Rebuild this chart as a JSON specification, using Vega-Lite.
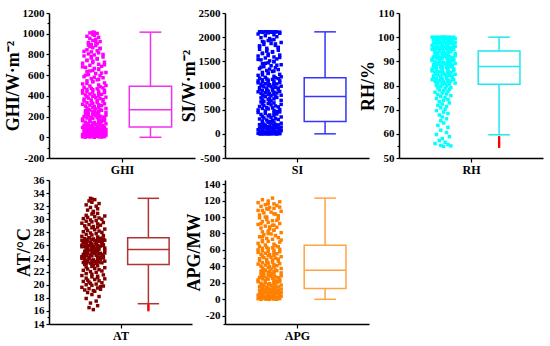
{
"$schema":"https://vega.github.io/schema/vega-lite/v6.json",
"background":"white",
"padding":{"left":4,"top":7,"right":4,"bottom":4},
"bounds":"flush",
"columns":3,
"spacing":{"row":22,"column":30},
"config":{"view":{"stroke":null},"font":"Liberation Serif",
"axis":{"grid":false,"domainColor":"black","domainWidth":1.5,"tickColor":"black","tickWidth":1.2,"tickSize":3,"labelFont":"Liberation Serif","labelFontWeight":"bold","labelFontSize":11,"labelColor":"black","labelOverlap":false,"labelFlush":false,"labelPadding":2,"titleFont":"Liberation Serif","titleFontWeight":"bold","titleFontSize":18,"titleColor":"black","titlePadding":0}},
"datasets":{
"ghi":[{"v":0,"j":31},{"v":1,"j":25},{"v":2,"j":36},{"v":3,"j":28},{"v":4,"j":34},{"v":5,"j":23},{"v":6,"j":38},{"v":8,"j":30},{"v":9,"j":26},{"v":10,"j":33},{"v":12,"j":29},{"v":13,"j":37},{"v":15,"j":24},{"v":16,"j":35},{"v":18,"j":27},{"v":19,"j":32},{"v":21,"j":39},{"v":22,"j":26},{"v":24,"j":30},{"v":25,"j":34},
{"v":27,"j":23},{"v":29,"j":38},{"v":30,"j":30},{"v":32,"j":26},{"v":34,"j":33},{"v":36,"j":29},{"v":38,"j":37},{"v":40,"j":24},{"v":42,"j":35},{"v":44,"j":27},{"v":46,"j":32},{"v":48,"j":39},{"v":50,"j":26},{"v":52,"j":30},{"v":54,"j":34},{"v":56,"j":31},{"v":58,"j":25},{"v":60,"j":36},{"v":62,"j":28},{"v":64,"j":34},
{"v":66,"j":37},{"v":68,"j":24},{"v":70,"j":35},{"v":72,"j":27},{"v":74,"j":32},{"v":76,"j":39},{"v":78,"j":26},{"v":80,"j":30},{"v":82,"j":34},{"v":84,"j":31},{"v":86,"j":25},{"v":88,"j":36},{"v":90,"j":28},{"v":92,"j":34},{"v":94,"j":23},{"v":95,"j":38},{"v":96,"j":30},{"v":97,"j":26},{"v":98,"j":33},{"v":99,"j":29},
{"v":100,"j":30},{"v":103,"j":26},{"v":106,"j":33},{"v":110,"j":29},{"v":113,"j":37},{"v":116,"j":24},{"v":120,"j":35},{"v":123,"j":27},{"v":126,"j":32},{"v":130,"j":39},{"v":133,"j":26},{"v":136,"j":30},{"v":140,"j":34},{"v":143,"j":31},{"v":146,"j":25},{"v":150,"j":36},{"v":153,"j":28},{"v":156,"j":34},{"v":160,"j":23},{"v":163,"j":38},
{"v":166,"j":36},{"v":170,"j":28},{"v":173,"j":34},{"v":176,"j":23},{"v":180,"j":38},{"v":183,"j":30},{"v":186,"j":26},{"v":190,"j":33},{"v":193,"j":29},{"v":196,"j":37},{"v":200,"j":24},{"v":203,"j":35},{"v":206,"j":27},{"v":210,"j":32},{"v":213,"j":39},{"v":216,"j":26},{"v":220,"j":30},{"v":223,"j":34},{"v":226,"j":31},{"v":230,"j":25},
{"v":233,"j":27},{"v":236,"j":32},{"v":240,"j":39},{"v":243,"j":26},{"v":246,"j":30},{"v":250,"j":34},{"v":253,"j":31},{"v":256,"j":25},{"v":260,"j":36},{"v":263,"j":28},
{"v":265,"j":35},{"v":270,"j":27},{"v":274,"j":32},{"v":279,"j":39},{"v":283,"j":26},{"v":288,"j":30},{"v":292,"j":34},{"v":297,"j":31},{"v":301,"j":25},{"v":306,"j":36},{"v":310,"j":28},{"v":315,"j":34},{"v":319,"j":23},{"v":324,"j":38},{"v":328,"j":30},{"v":333,"j":26},{"v":337,"j":33},{"v":342,"j":29},{"v":346,"j":37},{"v":351,"j":24},
{"v":355,"j":33},{"v":360,"j":29},{"v":364,"j":37},{"v":369,"j":24},{"v":373,"j":35},{"v":378,"j":27},{"v":382,"j":32},{"v":387,"j":39},{"v":391,"j":26},{"v":396,"j":30},{"v":400,"j":34},{"v":405,"j":31},{"v":409,"j":25},{"v":414,"j":36},{"v":418,"j":28},{"v":423,"j":34},{"v":427,"j":23},{"v":432,"j":38},{"v":436,"j":30},{"v":441,"j":26},
{"v":445,"j":34},{"v":450,"j":23},{"v":454,"j":38},{"v":459,"j":30},{"v":463,"j":26},{"v":468,"j":33},{"v":472,"j":29},{"v":477,"j":37},{"v":481,"j":24},{"v":488,"j":35},
{"v":495,"j":28},{"v":505,"j":34},{"v":515,"j":23},{"v":525,"j":38},{"v":535,"j":30},{"v":545,"j":26},{"v":555,"j":33},{"v":565,"j":29},{"v":575,"j":37},{"v":585,"j":24},{"v":595,"j":35},{"v":605,"j":27},{"v":615,"j":32},{"v":625,"j":39},{"v":635,"j":26},{"v":645,"j":30},{"v":655,"j":34},{"v":665,"j":31},{"v":675,"j":25},{"v":685,"j":36},
{"v":695,"j":28},{"v":705,"j":34},{"v":715,"j":23},{"v":725,"j":38},{"v":735,"j":30},{"v":745,"j":26},{"v":755,"j":33},{"v":765,"j":29},{"v":775,"j":37},{"v":785,"j":24},
{"v":795,"j":31},{"v":805,"j":27},{"v":815,"j":34},{"v":825,"j":29},{"v":835,"j":33},{"v":845,"j":26},{"v":855,"j":35},{"v":865,"j":30},{"v":875,"j":28},{"v":885,"j":32},{"v":895,"j":29},{"v":905,"j":33},{"v":915,"j":27},{"v":925,"j":35},{"v":935,"j":30},{"v":945,"j":32},{"v":955,"j":28},{"v":965,"j":34},{"v":975,"j":26},{"v":985,"j":31},{"v":995,"j":30},{"v":1003,"j":33},{"v":1008,"j":28},{"v":1012,"j":31},{"v":1015,"j":30},
{"v":500,"j":39},{"v":520,"j":26},{"v":540,"j":30},{"v":560,"j":34},{"v":580,"j":31},{"v":600,"j":25},{"v":620,"j":36},{"v":640,"j":28},{"v":660,"j":34},{"v":680,"j":23},{"v":700,"j":38},{"v":720,"j":30},{"v":740,"j":26},{"v":760,"j":33},{"v":780,"j":29},{"v":800,"j":37},{"v":830,"j":24},{"v":860,"j":35},{"v":890,"j":27},{"v":920,"j":32}],
"si":[{"v":0,"j":31},{"v":0,"j":25},{"v":2,"j":36},{"v":5,"j":28},{"v":8,"j":34},{"v":12,"j":23},{"v":15,"j":38},{"v":20,"j":30},{"v":25,"j":26},{"v":30,"j":33},{"v":35,"j":29},{"v":40,"j":37},{"v":45,"j":24},{"v":50,"j":35},{"v":55,"j":27},{"v":60,"j":32},{"v":65,"j":39},{"v":70,"j":26},{"v":75,"j":30},{"v":80,"j":34},
{"v":85,"j":23},{"v":90,"j":38},{"v":95,"j":30},{"v":100,"j":26},{"v":105,"j":33},{"v":110,"j":29},{"v":115,"j":37},{"v":120,"j":24},{"v":125,"j":35},{"v":130,"j":27},{"v":135,"j":32},{"v":140,"j":39},{"v":145,"j":26},{"v":150,"j":30},{"v":155,"j":34},{"v":160,"j":31},{"v":165,"j":25},{"v":170,"j":36},{"v":175,"j":28},{"v":180,"j":34},
{"v":185,"j":37},{"v":190,"j":24},{"v":195,"j":35},{"v":200,"j":27},{"v":210,"j":32},{"v":220,"j":39},{"v":230,"j":26},{"v":240,"j":30},{"v":245,"j":34},{"v":250,"j":31},
{"v":0,"j":24},{"v":0,"j":27},{"v":1,"j":30},{"v":2,"j":33},{"v":0,"j":36},{"v":3,"j":38},{"v":1,"j":26},{"v":0,"j":29},{"v":4,"j":32},{"v":2,"j":35},
{"v":255,"j":30},{"v":265,"j":26},{"v":276,"j":33},{"v":286,"j":29},{"v":297,"j":37},{"v":307,"j":24},{"v":318,"j":35},{"v":328,"j":27},{"v":338,"j":32},{"v":349,"j":39},{"v":359,"j":26},{"v":370,"j":30},{"v":380,"j":34},{"v":390,"j":31},{"v":401,"j":25},{"v":411,"j":36},{"v":422,"j":28},{"v":432,"j":34},{"v":442,"j":23},{"v":453,"j":38},
{"v":463,"j":36},{"v":474,"j":28},{"v":484,"j":34},{"v":494,"j":23},{"v":505,"j":38},{"v":515,"j":30},{"v":526,"j":26},{"v":536,"j":33},{"v":546,"j":29},{"v":557,"j":37},{"v":567,"j":24},{"v":578,"j":35},{"v":588,"j":27},{"v":598,"j":32},{"v":609,"j":39},{"v":619,"j":26},{"v":630,"j":30},{"v":640,"j":34},{"v":650,"j":31},{"v":661,"j":25},
{"v":671,"j":27},{"v":682,"j":32},{"v":692,"j":39},{"v":702,"j":26},{"v":713,"j":30},{"v":723,"j":34},{"v":734,"j":31},{"v":744,"j":25},{"v":754,"j":36},{"v":768,"j":28},
{"v":775,"j":35},{"v":783,"j":27},{"v":791,"j":32},{"v":799,"j":39},{"v":806,"j":26},{"v":814,"j":30},{"v":822,"j":34},{"v":830,"j":31},{"v":838,"j":25},{"v":845,"j":36},{"v":853,"j":28},{"v":861,"j":34},{"v":869,"j":23},{"v":877,"j":38},{"v":884,"j":30},{"v":892,"j":26},{"v":900,"j":33},{"v":908,"j":29},{"v":916,"j":37},{"v":923,"j":24},
{"v":931,"j":33},{"v":939,"j":29},{"v":947,"j":37},{"v":955,"j":24},{"v":962,"j":35},{"v":970,"j":27},{"v":978,"j":32},{"v":986,"j":39},{"v":994,"j":26},{"v":1001,"j":30},{"v":1009,"j":34},{"v":1017,"j":31},{"v":1025,"j":25},{"v":1033,"j":36},{"v":1040,"j":28},{"v":1048,"j":34},{"v":1056,"j":23},{"v":1064,"j":38},{"v":1072,"j":30},{"v":1079,"j":26},
{"v":1087,"j":34},{"v":1095,"j":23},{"v":1103,"j":38},{"v":1111,"j":30},{"v":1118,"j":26},{"v":1126,"j":33},{"v":1134,"j":29},{"v":1142,"j":37},{"v":1150,"j":24},{"v":1160,"j":35},
{"v":1170,"j":28},{"v":1190,"j":34},{"v":1210,"j":23},{"v":1230,"j":38},{"v":1250,"j":30},{"v":1270,"j":26},{"v":1290,"j":33},{"v":1310,"j":29},{"v":1330,"j":37},{"v":1350,"j":24},{"v":1370,"j":35},{"v":1390,"j":27},{"v":1410,"j":32},{"v":1430,"j":39},{"v":1450,"j":26},{"v":1470,"j":30},{"v":1490,"j":34},{"v":1510,"j":31},{"v":1530,"j":25},{"v":1550,"j":36},
{"v":1570,"j":28},{"v":1590,"j":34},{"v":1610,"j":23},{"v":1630,"j":38},{"v":1650,"j":30},{"v":1670,"j":26},{"v":1690,"j":33},{"v":1710,"j":29},{"v":1730,"j":37},{"v":1750,"j":24},
{"v":1770,"j":29},{"v":1790,"j":37},{"v":1810,"j":24},{"v":1830,"j":35},{"v":1850,"j":27},{"v":1870,"j":32},{"v":1890,"j":39},{"v":1910,"j":26},{"v":1930,"j":30},{"v":1950,"j":34},{"v":1970,"j":31},{"v":1990,"j":25},{"v":2010,"j":36},{"v":2030,"j":28},{"v":2050,"j":34},{"v":2065,"j":23},{"v":2080,"j":38},{"v":2090,"j":30},{"v":2100,"j":26},{"v":2105,"j":33},
{"v":2110,"j":24},{"v":2108,"j":27},{"v":2112,"j":30},{"v":2106,"j":33},{"v":2110,"j":36},{"v":2104,"j":38},{"v":2111,"j":25},{"v":2109,"j":29},{"v":2107,"j":32},{"v":2110,"j":35},{"v":2112,"j":28},{"v":2105,"j":31},
{"v":1180,"j":39},{"v":1220,"j":26},{"v":1260,"j":30},{"v":1300,"j":34},{"v":1340,"j":31},{"v":1380,"j":25},{"v":1420,"j":36},{"v":1460,"j":28},{"v":1500,"j":34},{"v":1540,"j":23},{"v":1580,"j":38},{"v":1620,"j":30},{"v":1660,"j":26},{"v":1700,"j":33},{"v":1740,"j":29},{"v":1780,"j":37},{"v":1820,"j":24},{"v":1860,"j":35},{"v":1900,"j":27},{"v":1940,"j":32}],
"rh":[{"v":100,"j":23},{"v":100,"j":26},{"v":100,"j":29},{"v":100,"j":32},{"v":100,"j":35},{"v":100,"j":38},{"v":99.9,"j":24},{"v":99.9,"j":27},{"v":99.9,"j":30},{"v":99.9,"j":33},{"v":99.9,"j":36},{"v":100,"j":31},
{"v":94.4,"j":31},{"v":94.5,"j":25},{"v":94.6,"j":36},{"v":94.7,"j":28},{"v":94.8,"j":34},{"v":94.9,"j":23},{"v":95.0,"j":38},{"v":95.2,"j":30},{"v":95.3,"j":26},{"v":95.4,"j":33},{"v":95.5,"j":29},{"v":95.6,"j":37},{"v":95.7,"j":24},{"v":95.8,"j":35},{"v":95.9,"j":27},{"v":96.0,"j":32},{"v":96.2,"j":39},{"v":96.3,"j":26},{"v":96.4,"j":30},{"v":96.5,"j":34},
{"v":96.6,"j":23},{"v":96.7,"j":38},{"v":96.8,"j":30},{"v":96.9,"j":26},{"v":97.0,"j":33},{"v":97.2,"j":29},{"v":97.3,"j":37},{"v":97.4,"j":24},{"v":97.5,"j":35},{"v":97.6,"j":27},{"v":97.7,"j":32},{"v":97.8,"j":39},{"v":97.9,"j":26},{"v":98.0,"j":30},{"v":98.2,"j":34},{"v":98.3,"j":31},{"v":98.4,"j":25},{"v":98.5,"j":36},{"v":98.6,"j":28},{"v":98.7,"j":34},
{"v":98.8,"j":37},{"v":98.9,"j":24},{"v":99.0,"j":35},{"v":99.2,"j":27},{"v":99.3,"j":32},{"v":99.4,"j":39},{"v":99.5,"j":26},{"v":99.6,"j":30},{"v":99.8,"j":34},{"v":99.9,"j":31},
{"v":88.0,"j":30},{"v":88.1,"j":26},{"v":88.3,"j":33},{"v":88.4,"j":29},{"v":88.5,"j":37},{"v":88.6,"j":24},{"v":88.8,"j":35},{"v":88.9,"j":27},{"v":89.0,"j":32},{"v":89.1,"j":39},{"v":89.3,"j":26},{"v":89.4,"j":30},{"v":89.5,"j":34},{"v":89.6,"j":31},{"v":89.8,"j":25},{"v":89.9,"j":36},{"v":90.0,"j":28},{"v":90.1,"j":34},{"v":90.3,"j":23},{"v":90.4,"j":38},
{"v":90.5,"j":36},{"v":90.6,"j":28},{"v":90.8,"j":34},{"v":90.9,"j":23},{"v":91.0,"j":38},{"v":91.1,"j":30},{"v":91.3,"j":26},{"v":91.4,"j":33},{"v":91.5,"j":29},{"v":91.6,"j":37},{"v":91.8,"j":24},{"v":91.9,"j":35},{"v":92.0,"j":27},{"v":92.1,"j":32},{"v":92.3,"j":39},{"v":92.4,"j":26},{"v":92.5,"j":30},{"v":92.6,"j":34},{"v":92.8,"j":31},{"v":92.9,"j":25},
{"v":93.0,"j":27},{"v":93.1,"j":32},{"v":93.3,"j":39},{"v":93.4,"j":26},{"v":93.5,"j":30},{"v":93.6,"j":34},{"v":93.8,"j":31},{"v":93.9,"j":25},{"v":94.0,"j":36},{"v":94.2,"j":28},
{"v":80.6,"j":35},{"v":80.7,"j":27},{"v":80.9,"j":32},{"v":81.0,"j":39},{"v":81.2,"j":26},{"v":81.3,"j":30},{"v":81.5,"j":34},{"v":81.6,"j":31},{"v":81.8,"j":25},{"v":81.9,"j":36},{"v":82.1,"j":28},{"v":82.2,"j":34},{"v":82.4,"j":23},{"v":82.5,"j":38},{"v":82.7,"j":30},{"v":82.8,"j":26},{"v":83.0,"j":33},{"v":83.1,"j":29},{"v":83.3,"j":37},{"v":83.4,"j":24},
{"v":83.6,"j":33},{"v":83.7,"j":29},{"v":83.9,"j":37},{"v":84.0,"j":24},{"v":84.2,"j":35},{"v":84.3,"j":27},{"v":84.5,"j":32},{"v":84.6,"j":39},{"v":84.8,"j":26},{"v":84.9,"j":30},{"v":85.1,"j":34},{"v":85.2,"j":31},{"v":85.4,"j":25},{"v":85.5,"j":36},{"v":85.7,"j":28},{"v":85.8,"j":34},{"v":86.0,"j":23},{"v":86.1,"j":38},{"v":86.3,"j":30},{"v":86.4,"j":26},
{"v":86.6,"j":34},{"v":86.7,"j":23},{"v":86.9,"j":38},{"v":87.0,"j":30},{"v":87.2,"j":26},{"v":87.3,"j":33},{"v":87.5,"j":29},{"v":87.6,"j":37},{"v":87.7,"j":24},{"v":87.8,"j":35},
{"v":80.3,"j":30},{"v":80.0,"j":26},{"v":79.8,"j":33},{"v":79.5,"j":29},{"v":79.2,"j":36},{"v":79.0,"j":27},{"v":78.7,"j":32},{"v":78.4,"j":35},{"v":78.1,"j":28},{"v":77.8,"j":31},{"v":77.5,"j":34},{"v":77.2,"j":25},{"v":76.9,"j":30},{"v":76.5,"j":33},{"v":76.2,"j":27},{"v":75.8,"j":36},{"v":75.4,"j":29},{"v":75.0,"j":32},{"v":74.6,"j":26},{"v":74.2,"j":34},
{"v":73.8,"j":31},{"v":73.3,"j":28},{"v":72.8,"j":35},{"v":72.3,"j":30},{"v":71.8,"j":27},{"v":71.3,"j":33},{"v":70.8,"j":29},{"v":70.2,"j":32},{"v":69.6,"j":26},{"v":69.0,"j":31},{"v":68.4,"j":34},{"v":67.8,"j":28},{"v":67.0,"j":30},{"v":66.2,"j":33},{"v":65.4,"j":29},
{"v":64.5,"j":31},{"v":63.5,"j":27},{"v":62.7,"j":34},{"v":61.5,"j":29},{"v":60.5,"j":33},{"v":59.7,"j":26},{"v":58.8,"j":35},{"v":58.0,"j":30},{"v":57.2,"j":28},{"v":56.5,"j":32},{"v":56.0,"j":25},{"v":55.6,"j":34},{"v":55.2,"j":29},{"v":55.0,"j":36},{"v":54.8,"j":31}],
"rh_out":[{"v":54.6},{"v":55.1},{"v":55.6},{"v":56.1},{"v":56.6},{"v":57.1},{"v":57.6},{"v":58.1},{"v":58.6}],
"at":[{"v":16.2,"j":31},{"v":16.5,"j":28},{"v":16.8,"j":34},{"v":17.2,"j":29},{"v":17.5,"j":33},{"v":17.9,"j":26},{"v":18.2,"j":35},{"v":18.5,"j":30},{"v":18.8,"j":27},{"v":19.0,"j":32},
{"v":19.1,"j":31},{"v":19.2,"j":25},{"v":19.3,"j":36},{"v":19.4,"j":28},{"v":19.5,"j":34},{"v":19.6,"j":23},{"v":19.8,"j":38},{"v":19.9,"j":30},{"v":20.0,"j":26},{"v":20.1,"j":33},{"v":20.2,"j":29},{"v":20.3,"j":37},{"v":20.5,"j":24},{"v":20.6,"j":35},{"v":20.7,"j":27},{"v":20.8,"j":32},{"v":20.9,"j":39},{"v":21.0,"j":26},{"v":21.2,"j":30},{"v":21.3,"j":34},
{"v":21.4,"j":23},{"v":21.5,"j":38},{"v":21.6,"j":30},{"v":21.7,"j":26},{"v":21.9,"j":33},{"v":22.0,"j":29},{"v":22.1,"j":37},{"v":22.2,"j":24},{"v":22.3,"j":35},{"v":22.4,"j":27},{"v":22.5,"j":32},{"v":22.6,"j":39},{"v":22.7,"j":26},{"v":22.8,"j":30},{"v":22.9,"j":34},{"v":23.0,"j":31},{"v":23.1,"j":25},{"v":19.7,"j":36},{"v":20.4,"j":28},{"v":21.1,"j":34},
{"v":23.15,"j":30},{"v":23.2,"j":26},{"v":23.25,"j":33},{"v":23.3,"j":29},{"v":23.35,"j":37},{"v":23.4,"j":24},{"v":23.45,"j":35},{"v":23.5,"j":27},{"v":23.55,"j":32},{"v":23.6,"j":39},{"v":23.65,"j":26},{"v":23.7,"j":30},{"v":23.75,"j":34},{"v":23.8,"j":31},{"v":23.85,"j":25},{"v":23.9,"j":36},{"v":23.95,"j":28},{"v":24.0,"j":34},{"v":24.05,"j":23},{"v":24.1,"j":38},
{"v":24.15,"j":36},{"v":24.2,"j":28},{"v":24.25,"j":34},{"v":24.3,"j":23},{"v":24.35,"j":38},{"v":24.4,"j":30},{"v":24.45,"j":26},{"v":24.5,"j":33},{"v":24.55,"j":29},{"v":24.6,"j":37},{"v":24.65,"j":24},{"v":24.7,"j":35},{"v":24.75,"j":27},{"v":24.8,"j":32},{"v":24.85,"j":39},{"v":24.9,"j":26},{"v":24.95,"j":30},{"v":25.0,"j":34},{"v":25.05,"j":31},{"v":25.1,"j":25},
{"v":25.15,"j":27},{"v":25.2,"j":32},{"v":25.25,"j":39},{"v":25.3,"j":26},{"v":25.35,"j":30},{"v":25.4,"j":34},{"v":23.6,"j":31},{"v":24.2,"j":25},{"v":24.8,"j":36},{"v":25.3,"j":28},
{"v":25.45,"j":35},{"v":25.5,"j":27},{"v":25.55,"j":32},{"v":25.6,"j":39},{"v":25.65,"j":26},{"v":25.7,"j":30},{"v":25.75,"j":34},{"v":25.8,"j":31},{"v":25.85,"j":25},{"v":25.9,"j":36},{"v":25.95,"j":28},{"v":26.0,"j":34},{"v":26.05,"j":23},{"v":26.1,"j":38},{"v":26.15,"j":30},{"v":26.2,"j":26},{"v":26.25,"j":33},{"v":26.3,"j":29},{"v":26.35,"j":37},{"v":26.4,"j":24},
{"v":26.45,"j":33},{"v":26.5,"j":29},{"v":26.55,"j":37},{"v":26.6,"j":24},{"v":26.65,"j":35},{"v":26.7,"j":27},{"v":26.75,"j":32},{"v":26.8,"j":39},{"v":26.85,"j":26},{"v":26.9,"j":30},{"v":26.95,"j":34},{"v":27.0,"j":31},{"v":27.05,"j":25},{"v":27.1,"j":36},{"v":27.15,"j":28},{"v":25.6,"j":34},{"v":25.8,"j":23},{"v":26.0,"j":38},{"v":26.2,"j":30},{"v":26.4,"j":26},
{"v":26.6,"j":34},{"v":26.8,"j":23},{"v":27.0,"j":38},{"v":25.7,"j":30},{"v":25.9,"j":26},{"v":26.1,"j":33},{"v":26.3,"j":29},{"v":26.5,"j":37},{"v":26.7,"j":24},{"v":26.9,"j":35},
{"v":27.2,"j":28},{"v":27.3,"j":34},{"v":27.4,"j":23},{"v":27.5,"j":38},{"v":27.6,"j":30},{"v":27.7,"j":26},{"v":27.8,"j":33},{"v":27.9,"j":29},{"v":28.0,"j":37},{"v":28.1,"j":24},{"v":28.2,"j":35},{"v":28.3,"j":27},{"v":28.4,"j":32},{"v":28.5,"j":39},{"v":28.6,"j":26},{"v":28.7,"j":30},{"v":28.8,"j":34},{"v":28.9,"j":31},{"v":29.0,"j":25},{"v":29.1,"j":36},
{"v":29.2,"j":28},{"v":29.3,"j":34},{"v":29.4,"j":23},{"v":29.5,"j":38},{"v":29.6,"j":30},{"v":29.7,"j":26},{"v":29.8,"j":33},{"v":29.9,"j":29},{"v":30.0,"j":37},{"v":30.1,"j":24},{"v":30.2,"j":35},{"v":30.3,"j":27},{"v":30.4,"j":32},{"v":30.5,"j":39},{"v":30.6,"j":26},{"v":30.8,"j":30},{"v":30.9,"j":34},{"v":31.0,"j":31},
{"v":31.2,"j":31},{"v":31.4,"j":27},{"v":31.6,"j":34},{"v":31.8,"j":29},{"v":32.0,"j":33},{"v":32.2,"j":26},{"v":32.4,"j":35},{"v":32.6,"j":30},{"v":32.8,"j":28},{"v":33.0,"j":32},{"v":33.1,"j":30},{"v":33.2,"j":29}],
"at_out":[{"v":16.1},{"v":16.3},{"v":16.5},{"v":16.7},{"v":16.9}],
"apg":[{"v":0,"j":31},{"v":0,"j":25},{"v":0,"j":36},{"v":0.3,"j":28},{"v":0.5,"j":34},{"v":0.8,"j":23},{"v":1,"j":38},{"v":1.2,"j":30},{"v":1.5,"j":26},{"v":1.8,"j":33},{"v":2,"j":29},{"v":2.3,"j":37},{"v":2.6,"j":24},{"v":2.9,"j":35},{"v":3.2,"j":27},{"v":3.5,"j":32},{"v":3.8,"j":39},{"v":4.1,"j":26},{"v":4.4,"j":30},{"v":4.7,"j":34},
{"v":5,"j":23},{"v":5.3,"j":38},{"v":5.6,"j":30},{"v":5.9,"j":26},{"v":6.2,"j":33},{"v":6.5,"j":29},{"v":6.8,"j":37},{"v":7.1,"j":24},{"v":7.4,"j":35},{"v":7.7,"j":27},{"v":8,"j":32},{"v":8.3,"j":39},{"v":8.6,"j":26},{"v":8.9,"j":30},{"v":9.2,"j":34},{"v":9.5,"j":31},{"v":9.8,"j":25},{"v":10.1,"j":36},{"v":10.4,"j":28},{"v":10.7,"j":34},
{"v":11,"j":37},{"v":11.3,"j":24},{"v":11.6,"j":35},{"v":11.9,"j":27},{"v":12.2,"j":32},{"v":12.5,"j":39},{"v":12.8,"j":26},{"v":0.2,"j":30},{"v":0.6,"j":34},{"v":1.4,"j":31},
{"v":13.2,"j":30},{"v":13.7,"j":26},{"v":14.1,"j":33},{"v":14.6,"j":29},{"v":15.0,"j":37},{"v":15.5,"j":24},{"v":15.9,"j":35},{"v":16.4,"j":27},{"v":16.8,"j":32},{"v":17.3,"j":39},{"v":17.7,"j":26},{"v":18.2,"j":30},{"v":18.6,"j":34},{"v":19.1,"j":31},{"v":19.5,"j":25},{"v":20.0,"j":36},{"v":20.4,"j":28},{"v":20.9,"j":34},{"v":21.3,"j":23},{"v":21.8,"j":38},
{"v":22.2,"j":36},{"v":22.7,"j":28},{"v":23.1,"j":34},{"v":23.6,"j":23},{"v":24.0,"j":38},{"v":24.5,"j":30},{"v":24.9,"j":26},{"v":25.4,"j":33},{"v":25.8,"j":29},{"v":26.3,"j":37},{"v":26.7,"j":24},{"v":27.2,"j":35},{"v":27.6,"j":27},{"v":28.1,"j":32},{"v":28.5,"j":39},{"v":29.0,"j":26},{"v":29.4,"j":30},{"v":29.9,"j":34},{"v":30.3,"j":31},{"v":30.8,"j":25},
{"v":31.2,"j":27},{"v":31.7,"j":32},{"v":32.1,"j":39},{"v":32.6,"j":26},{"v":33.0,"j":30},{"v":33.5,"j":34},{"v":33.9,"j":31},{"v":34.4,"j":25},{"v":34.8,"j":36},{"v":35.2,"j":28},
{"v":35.6,"j":35},{"v":36.2,"j":27},{"v":36.8,"j":32},{"v":37.4,"j":39},{"v":38.0,"j":26},{"v":38.6,"j":30},{"v":39.2,"j":34},{"v":39.8,"j":31},{"v":40.4,"j":25},{"v":41.0,"j":36},{"v":41.6,"j":28},{"v":42.2,"j":34},{"v":42.8,"j":23},{"v":43.4,"j":38},{"v":44.0,"j":30},{"v":44.6,"j":26},{"v":45.2,"j":33},{"v":45.8,"j":29},{"v":46.4,"j":37},{"v":47.0,"j":24},
{"v":47.6,"j":33},{"v":48.2,"j":29},{"v":48.8,"j":37},{"v":49.4,"j":24},{"v":50.0,"j":35},{"v":50.6,"j":27},{"v":51.2,"j":32},{"v":51.8,"j":39},{"v":52.4,"j":26},{"v":53.0,"j":30},{"v":53.6,"j":34},{"v":54.2,"j":31},{"v":54.8,"j":25},{"v":55.4,"j":36},{"v":56.0,"j":28},{"v":56.6,"j":34},{"v":57.2,"j":23},{"v":57.8,"j":38},{"v":58.4,"j":30},{"v":59.0,"j":26},
{"v":59.6,"j":34},{"v":60.2,"j":23},{"v":60.8,"j":38},{"v":61.4,"j":30},{"v":62.0,"j":26},{"v":62.6,"j":33},{"v":63.2,"j":29},{"v":63.8,"j":37},{"v":64.4,"j":24},{"v":65.2,"j":35},
{"v":66,"j":28},{"v":67,"j":34},{"v":68,"j":23},{"v":69.5,"j":38},{"v":70.5,"j":30},{"v":71.5,"j":26},{"v":73,"j":33},{"v":74,"j":29},{"v":75,"j":37},{"v":76,"j":24},{"v":77.5,"j":35},{"v":78.5,"j":27},{"v":79.5,"j":32},{"v":81,"j":39},{"v":82,"j":26},{"v":83,"j":30},{"v":84,"j":34},{"v":85.5,"j":31},{"v":86.5,"j":25},{"v":87.5,"j":36},
{"v":89,"j":28},{"v":90,"j":34},{"v":91,"j":23},{"v":92,"j":38},{"v":93.5,"j":30},{"v":94.5,"j":26},{"v":95.5,"j":33},{"v":97,"j":29},{"v":98,"j":37},{"v":99,"j":24},
{"v":100,"j":29},{"v":101.5,"j":37},{"v":102.5,"j":24},{"v":103.5,"j":35},{"v":105,"j":27},{"v":106,"j":32},{"v":107,"j":39},{"v":108,"j":26},{"v":109.5,"j":30},{"v":110.5,"j":34},{"v":111.5,"j":31},{"v":113,"j":25},{"v":114,"j":36},{"v":115,"j":28},{"v":116,"j":34},{"v":117.5,"j":23},{"v":118.5,"j":38},{"v":119.5,"j":30},{"v":121,"j":26},{"v":123,"j":33},
{"v":72,"j":39},{"v":76,"j":26},{"v":80,"j":30},{"v":84,"j":34},{"v":88,"j":31},{"v":92,"j":25},{"v":96,"j":36},{"v":100,"j":28},{"v":104,"j":34},{"v":108,"j":23},{"v":112,"j":38},{"v":116,"j":30},{"v":70,"j":26},{"v":90,"j":33},{"v":110,"j":29}]
},
"concat":[
{"width":146,"height":145,"resolve":{"axis":{"y":"independent"}},"layer":[
 {"data":{"name":"ghi"},"mark":{"type":"point","shape":"square","filled":true,"size":12,"opacity":1,"color":"#ff00ff","strokeWidth":0},
  "encoding":{"x":{"field":"j","type":"quantitative","scale":{"domain":[0,100],"nice":false,"zero":false},"axis":{"title":null,"values":[50],"labelExpr":"'GHI'","tickSize":4,"labelFontSize":12}},
   "y":{"field":"v","type":"quantitative","scale":{"domain":[-200,1200],"nice":false,"zero":false},"axis":{"title":"GHI/W·m⁻²","orient":"left","values":[-200,0,200,400,600,800,1000,1200],"labelExpr":"'' + datum.value"}}}},
 {"data":{"values":[{"mn":0,"q1":100,"md":265,"q3":492,"mx":1015}]},"layer":[
  {"mark":{"type":"rule","color":"#f032f0","strokeWidth":1.5},"encoding":{"x":{"datum":69.5},"y":{"field":"q3","type":"quantitative","axis":{"orient":"left","title":null,"labels":false,"domain":false,"tickSize":2,"values":[-100,100,300,500,700,900,1100]}},"y2":{"field":"mx"}}},
  {"mark":{"type":"rule","color":"#f032f0","strokeWidth":1.5},"encoding":{"x":{"datum":69.5},"y":{"field":"mn","type":"quantitative"},"y2":{"field":"q1"}}},
  {"mark":{"type":"rule","color":"#f032f0","strokeWidth":1.5},"encoding":{"x":{"datum":62},"x2":{"datum":77},"y":{"field":"mx","type":"quantitative"}}},
  {"mark":{"type":"rule","color":"#f032f0","strokeWidth":1.5},"encoding":{"x":{"datum":62},"x2":{"datum":77},"y":{"field":"mn","type":"quantitative"}}},
  {"mark":{"type":"rect","fill":"white","stroke":"#f032f0","strokeWidth":1.5},"encoding":{"x":{"datum":55},"x2":{"datum":84},"y":{"field":"q1","type":"quantitative"},"y2":{"field":"q3"}}},
  {"mark":{"type":"rule","color":"#f032f0","strokeWidth":1.5},"encoding":{"x":{"datum":55},"x2":{"datum":84},"y":{"field":"md","type":"quantitative"}}}]}]},
{"width":144,"height":145,"resolve":{"axis":{"y":"independent"}},"layer":[
 {"data":{"name":"si"},"mark":{"type":"point","shape":"square","filled":true,"size":12,"opacity":1,"color":"#0000ff","strokeWidth":0},
  "encoding":{"x":{"field":"j","type":"quantitative","scale":{"domain":[0,100],"nice":false,"zero":false},"axis":{"title":null,"values":[50],"labelExpr":"'SI'","tickSize":4,"labelFontSize":12}},
   "y":{"field":"v","type":"quantitative","scale":{"domain":[-500,2500],"nice":false,"zero":false},"axis":{"title":"SI/W·m⁻²","orient":"left","values":[-500,0,500,1000,1500,2000,2500],"labelExpr":"'' + datum.value"}}}},
 {"data":{"values":[{"mn":0,"q1":253,"md":773,"q3":1162,"mx":2110}]},"layer":[
  {"mark":{"type":"rule","color":"#3535ff","strokeWidth":1.5},"encoding":{"x":{"datum":69.5},"y":{"field":"q3","type":"quantitative","axis":{"orient":"left","title":null,"labels":false,"domain":false,"tickSize":2,"values":[-250,250,750,1250,1750,2250]}},"y2":{"field":"mx"}}},
  {"mark":{"type":"rule","color":"#3535ff","strokeWidth":1.5},"encoding":{"x":{"datum":69.5},"y":{"field":"mn","type":"quantitative"},"y2":{"field":"q1"}}},
  {"mark":{"type":"rule","color":"#3535ff","strokeWidth":1.5},"encoding":{"x":{"datum":62},"x2":{"datum":77},"y":{"field":"mx","type":"quantitative"}}},
  {"mark":{"type":"rule","color":"#3535ff","strokeWidth":1.5},"encoding":{"x":{"datum":62},"x2":{"datum":77},"y":{"field":"mn","type":"quantitative"}}},
  {"mark":{"type":"rect","fill":"white","stroke":"#3535ff","strokeWidth":1.5},"encoding":{"x":{"datum":55},"x2":{"datum":84},"y":{"field":"q1","type":"quantitative"},"y2":{"field":"q3"}}},
  {"mark":{"type":"rule","color":"#3535ff","strokeWidth":1.5},"encoding":{"x":{"datum":55},"x2":{"datum":84},"y":{"field":"md","type":"quantitative"}}}]}]},
{"width":144,"height":145,"resolve":{"axis":{"y":"independent"}},"layer":[
 {"data":{"name":"rh"},"mark":{"type":"point","shape":"square","filled":true,"size":12,"opacity":1,"color":"#00ffff","strokeWidth":0},
  "encoding":{"x":{"field":"j","type":"quantitative","scale":{"domain":[0,100],"nice":false,"zero":false},"axis":{"title":null,"values":[50],"labelExpr":"'RH'","tickSize":4,"labelFontSize":12}},
   "y":{"field":"v","type":"quantitative","scale":{"domain":[50,110],"nice":false,"zero":false},"axis":{"title":"RH/%","orient":"left","values":[50,60,70,80,90,100,110],"labelExpr":"'' + datum.value"}}}},
 {"data":{"values":[{"mn":59.6,"q1":80.5,"md":87.9,"q3":94.3,"mx":100}]},"layer":[
  {"mark":{"type":"rule","color":"#1ee8f0","strokeWidth":1.5},"encoding":{"x":{"datum":69.5},"y":{"field":"q3","type":"quantitative","axis":{"orient":"left","title":null,"labels":false,"domain":false,"tickSize":2,"values":[55,65,75,85,95,105]}},"y2":{"field":"mx"}}},
  {"mark":{"type":"rule","color":"#1ee8f0","strokeWidth":1.5},"encoding":{"x":{"datum":69.5},"y":{"field":"mn","type":"quantitative"},"y2":{"field":"q1"}}},
  {"mark":{"type":"rule","color":"#1ee8f0","strokeWidth":1.5},"encoding":{"x":{"datum":62},"x2":{"datum":77},"y":{"field":"mx","type":"quantitative"}}},
  {"mark":{"type":"rule","color":"#1ee8f0","strokeWidth":1.5},"encoding":{"x":{"datum":62},"x2":{"datum":77},"y":{"field":"mn","type":"quantitative"}}},
  {"mark":{"type":"rect","fill":"white","stroke":"#1ee8f0","strokeWidth":1.5},"encoding":{"x":{"datum":55},"x2":{"datum":84},"y":{"field":"q1","type":"quantitative"},"y2":{"field":"q3"}}},
  {"mark":{"type":"rule","color":"#1ee8f0","strokeWidth":1.5},"encoding":{"x":{"datum":55},"x2":{"datum":84},"y":{"field":"md","type":"quantitative"}}},
  {"data":{"name":"rh_out"},"mark":{"type":"point","shape":"square","filled":true,"size":5,"opacity":1,"color":"#ff0000","strokeWidth":0},"encoding":{"x":{"datum":69.5},"y":{"field":"v","type":"quantitative"}}}]}]},
{"width":143,"height":144,"resolve":{"axis":{"y":"independent"}},"layer":[
 {"data":{"name":"at"},"mark":{"type":"point","shape":"square","filled":true,"size":12,"opacity":1,"color":"#800000","strokeWidth":0},
  "encoding":{"x":{"field":"j","type":"quantitative","scale":{"domain":[0,100],"nice":false,"zero":false},"axis":{"title":null,"values":[50],"labelExpr":"'AT'","tickSize":4,"labelFontSize":12}},
   "y":{"field":"v","type":"quantitative","scale":{"domain":[14,36],"nice":false,"zero":false},"axis":{"title":"AT/°C","orient":"left","values":[14,16,18,20,22,24,26,28,30,32,34,36],"labelExpr":"'' + datum.value"}}}},
 {"data":{"values":[{"mn":17.1,"q1":23.1,"md":25.4,"q3":27.16,"mx":33.2}]},"layer":[
  {"mark":{"type":"rule","color":"#b03434","strokeWidth":1.5},"encoding":{"x":{"datum":69.5},"y":{"field":"q3","type":"quantitative","axis":{"orient":"left","title":null,"labels":false,"domain":false,"tickSize":2,"values":[15,17,19,21,23,25,27,29,31,33,35]}},"y2":{"field":"mx"}}},
  {"mark":{"type":"rule","color":"#b03434","strokeWidth":1.5},"encoding":{"x":{"datum":69.5},"y":{"field":"mn","type":"quantitative"},"y2":{"field":"q1"}}},
  {"mark":{"type":"rule","color":"#b03434","strokeWidth":1.5},"encoding":{"x":{"datum":62},"x2":{"datum":77},"y":{"field":"mx","type":"quantitative"}}},
  {"mark":{"type":"rule","color":"#b03434","strokeWidth":1.5},"encoding":{"x":{"datum":62},"x2":{"datum":77},"y":{"field":"mn","type":"quantitative"}}},
  {"mark":{"type":"rect","fill":"white","stroke":"#b03434","strokeWidth":1.5},"encoding":{"x":{"datum":55},"x2":{"datum":84},"y":{"field":"q1","type":"quantitative"},"y2":{"field":"q3"}}},
  {"mark":{"type":"rule","color":"#b03434","strokeWidth":1.5},"encoding":{"x":{"datum":55},"x2":{"datum":84},"y":{"field":"md","type":"quantitative"}}},
  {"data":{"name":"at_out"},"mark":{"type":"point","shape":"square","filled":true,"size":5,"opacity":1,"color":"#ff0000","strokeWidth":0},"encoding":{"x":{"datum":69.5},"y":{"field":"v","type":"quantitative"}}}]}]},
{"width":144,"height":144,"resolve":{"axis":{"y":"independent"}},"layer":[
 {"data":{"name":"apg"},"mark":{"type":"point","shape":"square","filled":true,"size":12,"opacity":1,"color":"#ff8000","strokeWidth":0},
  "encoding":{"x":{"field":"j","type":"quantitative","scale":{"domain":[0,100],"nice":false,"zero":false},"axis":{"title":null,"values":[50],"labelExpr":"'APG'","tickSize":4,"labelFontSize":12}},
   "y":{"field":"v","type":"quantitative","scale":{"domain":[-30,145],"nice":false,"zero":false},"axis":{"title":"APG/MW","orient":"left","values":[-20,0,20,40,60,80,100,120,140],"labelExpr":"'' + datum.value"}}}},
 {"data":{"values":[{"mn":0,"q1":13,"md":35.3,"q3":65.8,"mx":123}]},"layer":[
  {"mark":{"type":"rule","color":"#ffa445","strokeWidth":1.5},"encoding":{"x":{"datum":69.5},"y":{"field":"q3","type":"quantitative","axis":{"orient":"left","title":null,"labels":false,"domain":false,"tickSize":2,"values":[-30,-10,10,30,50,70,90,110,130]}},"y2":{"field":"mx"}}},
  {"mark":{"type":"rule","color":"#ffa445","strokeWidth":1.5},"encoding":{"x":{"datum":69.5},"y":{"field":"mn","type":"quantitative"},"y2":{"field":"q1"}}},
  {"mark":{"type":"rule","color":"#ffa445","strokeWidth":1.5},"encoding":{"x":{"datum":62},"x2":{"datum":77},"y":{"field":"mx","type":"quantitative"}}},
  {"mark":{"type":"rule","color":"#ffa445","strokeWidth":1.5},"encoding":{"x":{"datum":62},"x2":{"datum":77},"y":{"field":"mn","type":"quantitative"}}},
  {"mark":{"type":"rect","fill":"white","stroke":"#ffa445","strokeWidth":1.5},"encoding":{"x":{"datum":55},"x2":{"datum":84},"y":{"field":"q1","type":"quantitative"},"y2":{"field":"q3"}}},
  {"mark":{"type":"rule","color":"#ffa445","strokeWidth":1.5},"encoding":{"x":{"datum":55},"x2":{"datum":84},"y":{"field":"md","type":"quantitative"}}}]}]}
]
}
